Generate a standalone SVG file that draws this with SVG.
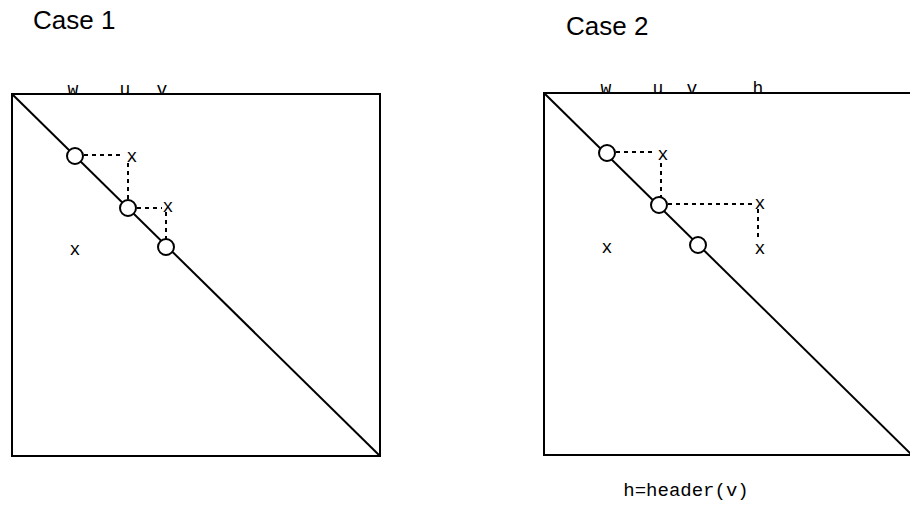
<svg xmlns="http://www.w3.org/2000/svg" width="910" height="508" viewBox="0 0 910 508">
<style>
.box{fill:none;stroke:#000;stroke-width:2}
.diag{stroke:#000;stroke-width:2}
.node{fill:#fff;stroke:#000;stroke-width:2}
.dash{stroke:#000;stroke-width:2;stroke-dasharray:4,4;fill:none}
.t{font-family:"Liberation Sans",Arial,sans-serif;font-size:26px;fill:#000}
.m{font-family:"Liberation Mono","Courier New",monospace;font-size:18px;fill:#000;text-anchor:middle}
</style>
<rect width="910" height="508" fill="#fff"/>
<text class="t" x="33" y="29">Case 1</text>
<text class="t" x="566" y="35">Case 2</text>
<g id="case1">
<rect class="box" x="12" y="94" width="368" height="362"/>
<line class="diag" x1="12" y1="94" x2="380" y2="456"/>
<text class="m" x="73" y="95">w</text>
<text class="m" x="125" y="95">u</text>
<text class="m" x="162" y="95">v</text>
<text class="m" x="75" y="255">x</text>
</g>
<g id="case2">
<rect class="box" x="544" y="93" width="368" height="362"/>
<line class="diag" x1="544" y1="93" x2="912" y2="455"/>
<text class="m" x="606" y="94">w</text>
<text class="m" x="658" y="94">u</text>
<text class="m" x="692" y="94">v</text>
<text class="m" x="758" y="94">h</text>
<text class="m" x="607" y="253">x</text>
<text class="m" x="686" y="496" style="font-size:19px">h=header(v)</text>
</g>
<g id="connectors">
<line class="dash" x1="84" y1="155" x2="120" y2="155"/>
<line class="dash" x1="128" y1="163" x2="128" y2="200"/>
<line class="dash" x1="137" y1="208" x2="162" y2="208"/>
<line class="dash" x1="166" y1="212" x2="166" y2="239"/>
<line class="dash" x1="616" y1="152" x2="653" y2="152"/>
<line class="dash" x1="661" y1="163" x2="661" y2="197"/>
<line class="dash" x1="668" y1="204" x2="756" y2="204"/>
<line class="dash" x1="758" y1="209" x2="758" y2="237"/>
</g>
<g id="nodes">
<g id="n1a"><circle class="node" cx="75" cy="156" r="8"/></g>
<g id="x1a"><text class="m" x="132" y="162">x</text></g>
<g id="n1b"><circle class="node" cx="128" cy="208" r="8"/></g>
<g id="x1b"><text class="m" x="168" y="212">x</text></g>
<g id="n1c"><circle class="node" cx="166" cy="247" r="8"/></g>
<g id="n2a"><circle class="node" cx="607" cy="153" r="8"/></g>
<g id="x2a"><text class="m" x="663" y="160">x</text></g>
<g id="n2b"><circle class="node" cx="659" cy="205" r="8"/></g>
<g id="x2b"><text class="m" x="760" y="209">x</text></g>
<g id="n2c"><circle class="node" cx="698" cy="245" r="8"/></g>
<g id="x2c"><text class="m" x="760" y="254">x</text></g>
</g>
</svg>
